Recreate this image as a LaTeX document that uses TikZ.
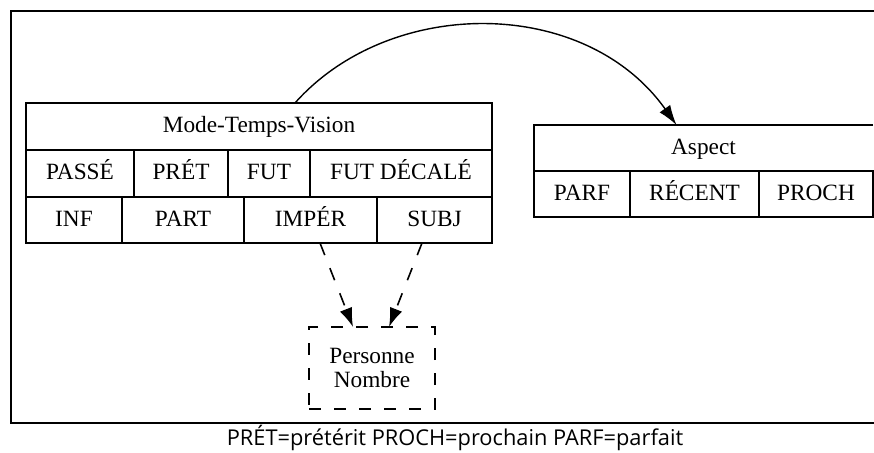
\documentclass[tikz,border=0pt]{standalone}
\usepackage{fontspec}
\setmainfont{Liberation Serif}
\newfontfamily\capfont{Open Sans}
\usetikzlibrary{arrows.meta}

\begin{document}
\begin{tikzpicture}[x=1pt,y=-1pt,
  cell/.style={draw, line width=1.6pt, rectangle, inner sep=0pt, outer sep=0pt,
    text height=16pt, text depth=4pt,
    font=\fontsize{23.3}{26}\selectfont},
  plain/.style={rectangle, inner sep=0pt, outer sep=0pt,
    font=\fontsize{23.3}{26}\selectfont},
  framebox/.style={line width=2.2pt},
  link/.style={line width=1.4pt, -{Latex[length=20pt,width=13pt]}},
  dlink/.style={line width=1.6pt, dash pattern=on 13pt off 14pt, -{Latex[length=19pt,width=13pt]}}
]
\useasboundingbox (0,0) rectangle (874,452);
\clip (0,0) rectangle (874,452);
\fill[white] (0,0) rectangle (874,452);

% outer frame (open to the right)
\draw[framebox] (890,11) -- (11,11) -- (11,423) -- (890,423);

% Mode-Temps-Vision block
\node[cell, minimum width=466pt, minimum height=47pt] (mtv) at (259,126.5) {Mode-Temps-Vision};
\node[cell, minimum width=108pt, minimum height=47pt] (passe) at (80,173.5) {PASSÉ};
\node[cell, minimum width=94pt,  minimum height=47pt] (pret)  at (181,173.5) {PRÉT};
\node[cell, minimum width=82pt,  minimum height=47pt] (fut)   at (269,173.5) {FUT};
\node[cell, minimum width=182pt, minimum height=47pt] (futd)  at (401,173.5) {FUT DÉCALÉ};
\node[cell, minimum width=96pt,  minimum height=46pt] (inf)   at (74,220) {INF};
\node[cell, minimum width=122pt, minimum height=46pt] (part)  at (183,220) {PART};
\node[cell, minimum width=133pt, minimum height=46pt] (imper) at (310.5,220) {IMPÉR};
\node[cell, minimum width=115pt, minimum height=46pt] (subj)  at (434.5,220) {SUBJ};

% Aspect block
\node[plain, text height=16pt, text depth=4pt, minimum width=339pt, minimum height=46pt] (asp) at (703.5,148) {Aspect};
\draw[line width=1.6pt] (asp.north east) -- (asp.north west) -- (asp.south west) -- (asp.south east);
\node[cell, minimum width=96pt,  minimum height=46pt] (parf)   at (582,194) {PARF};
\node[cell, minimum width=129pt, minimum height=46pt] (recent) at (694.5,194) {RÉCENT};
\node[cell, minimum width=114pt, minimum height=46pt] (proch)  at (816,194) {PROCH};

% Personne / Nombre
\node[plain, draw, line width=1.6pt, dash pattern=on 12pt off 13pt,
  minimum width=126pt, minimum height=82pt, align=center] (pers) at (372,368)
  {Personne\\[-2pt]Nombre};

% connectors
\draw[link] ([xshift=36pt]mtv.north) .. controls (390,-4) and (585,-4) .. ([xshift=-27pt]asp.north);
\draw[dlink] ([xshift=9.5pt]imper.south) -- ([xshift=-19pt]pers.north);
\draw[dlink] ([xshift=-12.5pt]subj.south) -- ([xshift=17pt]pers.north);

% caption
\node[font=\capfont\fontsize{21.8}{24}\selectfont] (cap) at (455,438) {PRÉT=prétérit PROCH=prochain PARF=parfait};
\end{tikzpicture}
\end{document}
